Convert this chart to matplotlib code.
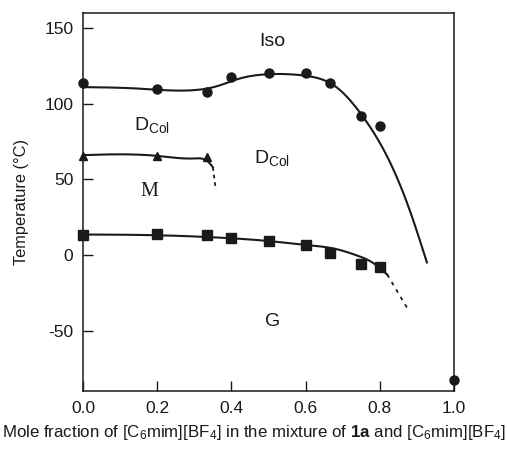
import numpy as np
import matplotlib
matplotlib.use("Agg")
import matplotlib.pyplot as plt

plt.rcParams['font.family'] = ['Liberation Sans', 'DejaVu Sans']
plt.rcParams['mathtext.fontset'] = 'custom'
plt.rcParams['mathtext.rm'] = 'Liberation Sans'
plt.rcParams['mathtext.it'] = 'Liberation Sans:italic'
plt.rcParams['mathtext.bf'] = 'Liberation Sans:bold'

# ---- data ----
iso_x = [0.0, 0.2, 0.333, 0.4, 0.5, 0.6, 0.667, 0.75, 0.8, 1.0]
iso_y = [114, 110, 108, 118, 120.5, 120.5, 114, 92, 85, -83]

tri_x = [0.0, 0.2, 0.333]
tri_y = [65.5, 65.5, 65]

sq_x = [0.0, 0.2, 0.333, 0.4, 0.5, 0.6, 0.667, 0.75, 0.8]
sq_y = [13.5, 14, 13, 11, 9.2, 6.3, 1.3, -6, -8]

# guide curves (hand-drawn fits)
iso_curve_x = [0.0, 0.15, 0.3, 0.36, 0.42, 0.5, 0.6, 0.68, 0.75, 0.82, 0.88, 0.927]
iso_curve_y = [111, 110, 109, 111.5, 116.5, 119.5, 118.5, 111.5, 93, 65, 30, -5]

tri_curve_x = [0.0, 0.2, 0.3, 0.34, 0.35]
tri_curve_y = [66, 65.5, 63.8, 61, 58]
tri_dash_x = [0.35, 0.358]
tri_dash_y = [58, 43]

sq_curve_x = [0.0, 0.2, 0.4, 0.5, 0.6, 0.68, 0.74, 0.78, 0.82]
sq_curve_y = [13.5, 13, 11, 9.2, 6.6, 4, -0.5, -5, -13]
sq_dash_x = [0.82, 0.88]
sq_dash_y = [-13, -37.6]

xticks = [0.0, 0.2, 0.4, 0.6, 0.8, 1.0]
yticks = [-50, 0, 50, 100, 150]


def natural_spline(xs, ys, n=300):
    x = np.asarray(xs, float)
    y = np.asarray(ys, float)
    m = len(x)
    h = np.diff(x)
    A = np.zeros((m, m))
    b = np.zeros(m)
    A[0, 0] = 1
    A[-1, -1] = 1
    for i in range(1, m - 1):
        A[i, i - 1] = h[i - 1]
        A[i, i] = 2 * (h[i - 1] + h[i])
        A[i, i + 1] = h[i]
        b[i] = 3 * ((y[i + 1] - y[i]) / h[i] - (y[i] - y[i - 1]) / h[i - 1])
    c = np.linalg.solve(A, b)
    xx = np.linspace(x[0], x[-1], n)
    idx = np.clip(np.searchsorted(x, xx) - 1, 0, m - 2)
    dx = xx - x[idx]
    bb = (y[idx + 1] - y[idx]) / h[idx] - h[idx] * (2 * c[idx] + c[idx + 1]) / 3
    dd = (c[idx + 1] - c[idx]) / (3 * h[idx])
    yy = y[idx] + bb * dx + c[idx] * dx ** 2 + dd * dx ** 3
    return xx, yy


fig = plt.figure(figsize=(5.07, 4.53), dpi=100)
ax = fig.add_axes([83 / 507, 1 - 391 / 453, (454 - 83) / 507, (391 - 13) / 453])

ink = '#1a1a1a'
lw = 1.5
cx, cy = natural_spline(iso_curve_x, iso_curve_y)
ax.plot(cx, cy, color=ink, lw=lw)
cx, cy = natural_spline(tri_curve_x, tri_curve_y)
ax.plot(cx, cy, color=ink, lw=lw)
ax.plot(tri_dash_x, tri_dash_y, color=ink, lw=1.3, ls=(0, (2, 2.2)))
cx, cy = natural_spline(sq_curve_x, sq_curve_y)
ax.plot(cx, cy, color=ink, lw=lw)
ax.plot(sq_dash_x, sq_dash_y, color=ink, lw=1.3, ls=(0, (2, 2.8)))

ax.plot(iso_x, iso_y, 'o', color=ink, ms=6.5, clip_on=False, zorder=5)
ax.plot(tri_x, tri_y, '^', color=ink, ms=6.3, clip_on=False, zorder=5)
ax.plot(sq_x, sq_y, 's', color=ink, ms=6.5, clip_on=False, zorder=5)

ax.set_xlim(0, 1.0)
ax.set_ylim(-90, 160)
ax.set_xticks(xticks)
ax.set_xticklabels([f"{v:.1f}" for v in xticks])
ax.set_yticks(yticks)
ax.set_yticklabels([str(v) for v in yticks])
ax.tick_params(direction='in', length=7, width=1, labelsize=12.5, pad=7,
               top=False, right=False, colors=ink)
for s in ax.spines.values():
    s.set_linewidth(1.1)
    s.set_color(ink)

ax.text(0.51, 141, 'Iso', fontsize=14, ha='center', va='center', color=ink)
ax.text(0.185, 86, r'D$_{\mathrm{Col}}$', fontsize=14, ha='center', va='center', color=ink)
ax.text(0.51, 64, r'D$_{\mathrm{Col}}$', fontsize=14, ha='center', va='center', color=ink)
ax.text(0.18, 42, 'M', fontsize=14.5, ha='center', va='center', color=ink,
        family=['Liberation Serif'])
ax.text(0.51, -44, 'G', fontsize=14, ha='center', va='center', color=ink)

ax.set_ylabel('Temperature (°C)', fontsize=11.8, color=ink)
ax.yaxis.set_label_coords(-(83 - 29) / 371, 0.5)
fig.text(254 / 507, 1 - 432 / 453,
         r'Mole fraction of [C$_6$mim][BF$_4$] in the mixture of $\mathbf{1a}$ and [C$_6$mim][BF$_4$]',
         fontsize=12.2, ha='center', va='center', color=ink)

fig.savefig('out.png', dpi=100)
